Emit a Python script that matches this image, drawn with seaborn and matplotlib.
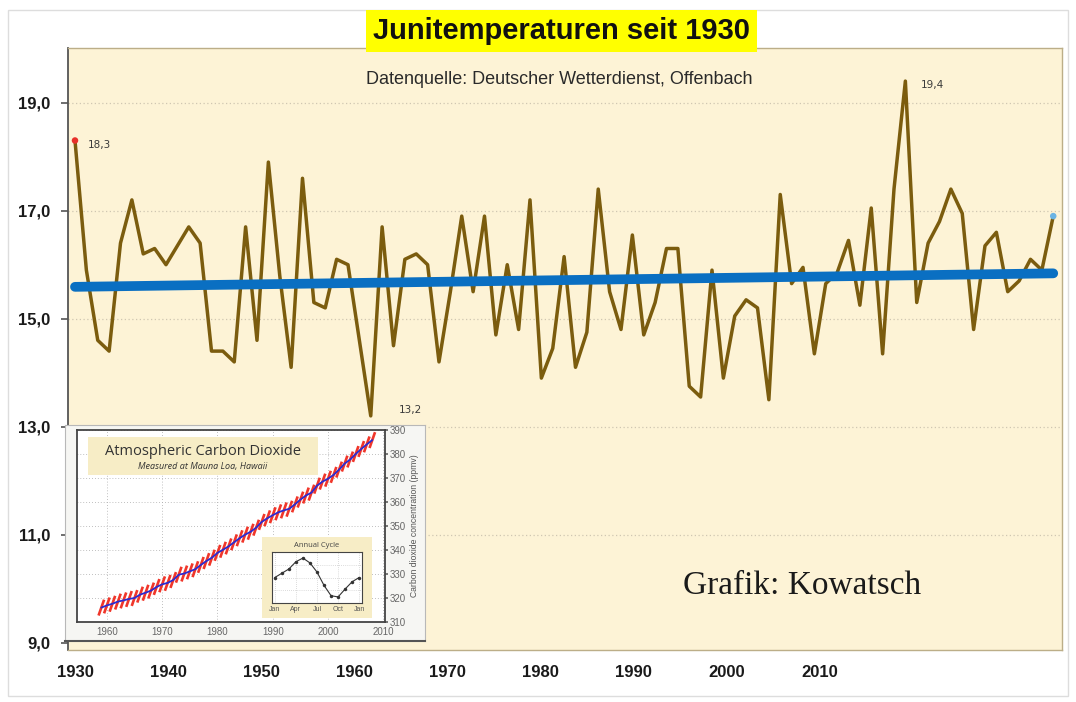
import matplotlib
matplotlib.use("Agg")
import matplotlib.pyplot as plt
import seaborn as sns
import pandas as pd
from matplotlib.patches import Rectangle

# ---------------- data ----------------
years = list(range(1930, 2017))
june_temp = [18.3, 15.9, 14.6, 14.4, 16.4, 17.2, 16.2, 16.3, 16.0, 16.35,
             16.7, 16.4, 14.4, 14.4, 14.2, 16.7, 14.6, 17.9, 15.8, 14.1,
             17.6, 15.3, 15.2, 16.1, 16.0, 14.6, 13.2, 16.7, 14.5, 16.1,
             16.2, 16.0, 14.2, 15.5, 16.9, 15.5, 16.9, 14.7, 16.0, 14.8,
             17.2, 13.9, 14.45, 16.15, 14.1, 14.75, 17.4, 15.5, 14.8, 16.55,
             14.7, 15.3, 16.3, 16.3, 13.75, 13.55, 15.9, 13.9, 15.05, 15.35,
             15.2, 13.5, 17.3, 15.65, 15.95, 14.35, 15.65, 15.85, 16.45, 15.25,
             17.05, 14.35, 17.4, 19.4, 15.3, 16.4, 16.8, 17.4, 16.95, 14.8,
             16.35, 16.6, 15.5, 15.7, 16.1, 15.9, 16.9]
trend_years = [1930, 2016]
trend_vals = [15.59, 15.84]

ytick_vals = [9, 11, 13, 15, 17, 19]
ytick_labels = ["9,0", "11,0", "13,0", "15,0", "17,0", "19,0"]
xtick_labels = ["1930", "1940", "1950", "1960", "1970", "1980", "1990", "2000", "2010"]

annot_years = [1930, 1956, 2003]
annot_texts = ["18,3", "13,2", "19,4"]

# inset: Mauna Loa CO2 annual means (ppmv)
co2_years = list(range(1959, 2009))
co2_ppm = [316.0, 316.9, 317.6, 318.5, 319.0, 319.6, 320.0, 321.4, 322.2, 323.1,
           324.6, 325.7, 326.3, 327.5, 329.7, 330.2, 331.1, 332.0, 333.8, 335.4,
           336.8, 338.8, 340.1, 341.5, 343.2, 344.9, 346.4, 347.6, 349.3, 351.7,
           353.2, 354.5, 355.7, 356.5, 357.2, 359.0, 361.0, 362.7, 363.9, 366.8,
           368.5, 369.7, 371.3, 373.5, 376.0, 377.7, 380.0, 382.1, 384.0, 385.8]
co2_xticks = [1960, 1970, 1980, 1990, 2000, 2010]
co2_yticks = [310, 320, 330, 340, 350, 360, 370, 380, 390]

cycle_month = list(range(13))
cycle_ppm = [0.0, 0.7, 1.4, 2.6, 3.2, 2.4, 0.9, -1.3, -3.0, -3.2, -1.9, -0.7, 0.0]
cycle_tick_labels = ["Jan", "Apr", "Jul", "Oct", "Jan"]

# ---------------- layout helpers ----------------
W, H = 1076, 702


def frect(x0, y0, x1, y1):
    return [x0 / W, 1 - y1 / H, (x1 - x0) / W, (y1 - y0) / H]


sns.set_theme(style="white")
plt.rcParams["font.family"] = ["Liberation Sans", "DejaVu Sans"]

fig = plt.figure(figsize=(W / 100, H / 100), dpi=100)
fig.patch.set_facecolor("white")
fig.patches.append(Rectangle((8 / W, 6 / H), 1060 / W, 686 / H, transform=fig.transFigure,
                             fill=False, edgecolor="#dddddd", lw=1.0, zorder=0))

# ---------------- main axes ----------------
ax = fig.add_axes(frect(68, 48, 1062, 650))
ax.set_facecolor("#fdf3d6")
df = pd.DataFrame({"Jahr": years, "Temp": june_temp})
sns.lineplot(data=df, x="Jahr", y="Temp", ax=ax, color="#7b5c0e", lw=2.5, zorder=3)
tdf = pd.DataFrame({"Jahr": trend_years, "Temp": trend_vals})
sns.lineplot(data=tdf, x="Jahr", y="Temp", ax=ax, color="#0a6fc2", lw=7,
             solid_capstyle="round", zorder=4)
# end markers
ax.scatter([years[0]], [june_temp[0]], s=22, color="#e8302a", zorder=5, edgecolor="none")
ax.scatter([years[-1]], [june_temp[-1]], s=22, color="#6cb4e4", zorder=5, edgecolor="none")

ax.set_xlim(1929.385, 2016.77)
ax.set_ylim(8.865, 20.013)
ax.set_xticks([])
ax.set_yticks(ytick_vals)
ax.set_yticklabels(ytick_labels, fontsize=12, fontweight="bold", color="#1a1a1a")
ax.tick_params(axis="y", direction="out", length=5, width=1.2, color="#555555", pad=8,
               left=True)
for v in ytick_vals[1:]:
    ax.axhline(v, color="#cfc6b2", lw=0.9, ls=(0, (1, 2)), zorder=1)
ax.set_xlabel("")
ax.set_ylabel("")
for side in ["top", "right", "bottom"]:
    ax.spines[side].set_color("#bcae88")
    ax.spines[side].set_linewidth(1.0)
ax.spines["left"].set_color("#555555")
ax.spines["left"].set_linewidth(1.3)

offsets = [(9, -3), (20, 4), (11, -3)]
for yr, txt, off in zip(annot_years, annot_texts, offsets):
    ax.annotate(txt, xy=(yr, june_temp[years.index(yr)]), xytext=off,
                textcoords="offset points", fontsize=7.5, color="#3a3a3a",
                family="DejaVu Sans", ha="left", va="center", zorder=6)

# x labels axis (labels as placed in the original graphic)
axl = ax.twiny()
axl.set_xlim(1929.248, 2035.99)
axl.xaxis.set_ticks_position("bottom")
axl.set_xticks([int(t) for t in xtick_labels])
axl.set_xticklabels(xtick_labels, fontsize=12, fontweight="bold", color="#1a1a1a")
axl.tick_params(axis="x", length=0, pad=11)
for s in axl.spines.values():
    s.set_visible(False)

# title & subtitle
fig.text(561.5 / W, 1 - 31 / H, "Junitemperaturen seit 1930",
         family=["Liberation Sans", "DejaVu Sans"],
         fontsize=21, fontweight="bold", color="#111111", ha="center", va="center",
         bbox=dict(boxstyle="square,pad=0.25", facecolor="#ffff00", edgecolor="none"),
         zorder=10)
fig.text(559 / W, 1 - 79 / H, "Datenquelle: Deutscher Wetterdienst, Offenbach",
         family=["Liberation Sans", "DejaVu Sans"],
         fontsize=13, color="#2a2a2a", ha="center", va="center")
fig.text(683 / W, 1 - 586 / H, "Grafik: Kowatsch", family=["Liberation Serif"],
         fontsize=24, color="#1a1a1a", ha="left", va="center")

# ---------------- inset: CO2 ----------------
bg = fig.add_axes(frect(65, 425, 425, 641))
bg.set_facecolor("#f6f6f3")
bg.set_xticks([])
bg.set_yticks([])
for s in bg.spines.values():
    s.set_color("#b8b8b8")
    s.set_linewidth(0.8)
bg.spines["bottom"].set_color("#555555")
bg.spines["bottom"].set_linewidth(1.5)

ci = fig.add_axes(frect(77, 430, 385, 622))
ci.set_facecolor("white")
cdf = pd.DataFrame({"Jahr": co2_years, "ppm": co2_ppm})
sns.scatterplot(data=cdf, x="Jahr", y="ppm", ax=ci, marker=[(-0.35, -1), (0.35, 1)],
                s=130, facecolor="none", edgecolor="#f0362a", linewidth=1.9, zorder=3)
sns.lineplot(data=cdf, x="Jahr", y="ppm", ax=ci, color="#2b2bd0", lw=1.3, zorder=4)
ci.set_xlim(1954.6, 2010.3)
ci.set_ylim(310, 390)
ci.set_xticks(co2_xticks)
ci.set_xticklabels([str(t) for t in co2_xticks], fontsize=7, color="#666666")
ci.set_yticks(co2_yticks)
ci.yaxis.tick_right()
ci.yaxis.set_label_position("right")
ci.set_yticklabels([str(t) for t in co2_yticks], fontsize=7, color="#666666")
ci.tick_params(length=2, pad=1.5, color="#666666")
ci.set_xlabel("")
ci.set_ylabel("Carbon dioxide concentration (ppmv)", fontsize=6.2, color="#555555",
              labelpad=3)
ci.grid(True, color="#aaaaaa", lw=0.6, ls=(0, (1, 2.5)))
for s in ci.spines.values():
    s.set_color("#444444")
    s.set_linewidth(1.3)
ci.add_patch(Rectangle((0.036, 0.766), 0.746, 0.198, transform=ci.transAxes,
                       facecolor="#f7edc6", edgecolor="none", zorder=5))
ci.text(0.409, 0.888, "Atmospheric Carbon Dioxide", transform=ci.transAxes,
        family=["Open Sans"], fontsize=10.5, color="#333333", ha="center", va="center",
        zorder=6)
ci.text(0.409, 0.81, "Measured at Mauna Loa, Hawaii", transform=ci.transAxes,
        family=["Open Sans"], fontsize=6.5, style="italic", color="#333333",
        ha="center", va="center", zorder=6)

# annual cycle mini inset
abg = fig.add_axes(frect(262, 537, 372, 618))
abg.set_facecolor("#f7edc6")
abg.set_xticks([])
abg.set_yticks([])
for s in abg.spines.values():
    s.set_visible(False)
abg.text(0.5, 0.89, "Annual Cycle", transform=abg.transAxes, fontsize=5.5,
         family=["Open Sans"], color="#444444", ha="center", va="center")

aa = fig.add_axes(frect(272, 552, 362, 603))
aa.set_facecolor("white")
adf = pd.DataFrame({"m": cycle_month, "v": cycle_ppm})
sns.lineplot(data=adf, x="m", y="v", ax=aa, color="#333333", lw=0.8, marker="o",
             markersize=2.5, markeredgewidth=0)
aa.set_xlim(-0.4, 12.4)
aa.set_ylim(-4.2, 4.2)
aa.set_xticks([0, 3, 6, 9, 12])
aa.set_xticklabels(cycle_tick_labels, fontsize=5, color="#555555")
aa.set_yticks([-2, 0, 2])
aa.set_yticklabels([])
aa.tick_params(length=1.5, pad=1, color="#666666")
aa.set_xlabel("")
aa.set_ylabel("")
aa.grid(True, color="#bbbbbb", lw=0.5, ls=(0, (1, 2)))
for s in aa.spines.values():
    s.set_color("#444444")
    s.set_linewidth(0.8)

fig.savefig("out.png", dpi=100)
